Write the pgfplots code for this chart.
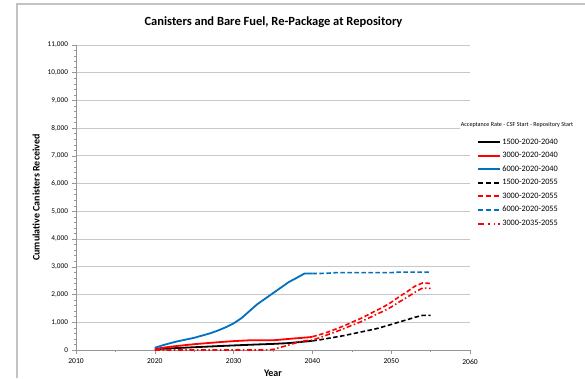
\documentclass[border=0pt]{standalone}
\usepackage{pgfplots}
\pgfplotsset{compat=1.18}
\usepackage{fontspec}
\setmainfont{Carlito}

\definecolor{exblue}{RGB}{0,112,192}
\definecolor{gridgray}{RGB}{200,200,200}
\definecolor{axgray}{RGB}{150,150,150}
\definecolor{framegray}{RGB}{195,195,195}

\tikzset{
  solidline/.style={line width=1.8pt},
  dashline/.style={line width=1.6pt, dash pattern=on 4.5pt off 2.5pt},
  dashdotline/.style={line width=1.6pt, dash pattern=on 5pt off 2.5pt on 1.5pt off 2.5pt},
}

\begin{document}
\begin{tikzpicture}
\useasboundingbox (0,0) rectangle (585pt,378pt);
% outer chart frame
\draw[framegray, line width=1.3pt] (17pt,0pt) -- (17pt,374pt) -- (585pt,374pt);
\node[font=\bfseries\fontsize{12.5}{14}\selectfont] at (273.5pt,356pt) {Canisters and Bare Fuel, Re-Package at Repository};

\begin{axis}[
  at={(76pt,28pt)}, anchor=south west,
  scale only axis, width=394pt, height=305pt,
  xmin=2010, xmax=2060, ymin=0, ymax=11000,
  xtick={2010,2020,...,2060}, minor x tick num=1,
  ytick={0,1000,...,11000}, minor y tick num=4,
  axis x line*=bottom, axis y line*=left,
  axis line style={axgray, line width=0.8pt},
  tick style={axgray, line width=0.6pt},
  tick align=outside,
  major tick length=3.5pt, minor tick length=2pt,
  ymajorgrids, grid style={gridgray, line width=0.9pt},
  /pgf/number format/assume math mode=true,
  yticklabel style={/pgf/number format/1000 sep={,}, font=\fontsize{7.3}{8}\selectfont, xshift=-1pt},
  xticklabel style={/pgf/number format/1000 sep={}, font=\fontsize{7.6}{8}\selectfont, yshift=-2pt},
  scaled y ticks=false,
  xlabel={Year}, ylabel={Cumulative Canisters Received},
  xlabel style={font=\bfseries\fontsize{10}{11}\selectfont, yshift=1.5pt},
  ylabel style={font=\bfseries\fontsize{10}{11}\selectfont, yshift=1pt},
  clip=false,
  legend cell align=left,
  legend style={at={(1.018,0.70)}, anchor=north west, draw=none, fill=none,
    font=\fontsize{8.3}{9}\selectfont, row sep=2.6pt, inner sep=0pt,
    nodes={inner xsep=1pt}},
  legend image code/.code={\draw[#1] (0pt,0pt) -- (22pt,0pt);},
]
% 1500-2020-2040
\addplot[black, solidline, forget plot] coordinates {
(2020,30) (2022,60) (2025,100) (2028,140) (2030,165) (2033,200) (2035,220) (2037,250) (2040,330)};
% 3000-2020-2040
\addplot[red, solidline, forget plot] coordinates {
(2020,40) (2022,120) (2025,210) (2028,280) (2030,320) (2032,350) (2035,350) (2037,400) (2040,470)};
% 6000-2020-2040
\addplot[exblue, solidline, forget plot] coordinates {
(2020,80) (2021,170) (2022,250) (2023,320) (2024,380) (2025,440) (2026,520) (2027,600) (2028,700) (2029,820) (2030,960) (2031,1150) (2032,1400) (2033,1650) (2034,1850) (2035,2050) (2036,2250) (2037,2450) (2038,2600) (2039,2760) (2040,2760)};
% 1500-2020-2055
\addplot[black, dashline, forget plot] coordinates {
(2040,330) (2041,370) (2042,420) (2043,470) (2044,520) (2045,580) (2046,640) (2047,700) (2048,760) (2049,840) (2050,920) (2051,1010) (2052,1090) (2053,1180) (2054,1250) (2055,1250)};
% 3000-2020-2055
\addplot[red, dashline, forget plot] coordinates {
(2040,480) (2041,560) (2042,650) (2043,760) (2044,870) (2045,1000) (2046,1120) (2047,1260) (2048,1410) (2049,1550) (2050,1720) (2051,1920) (2052,2100) (2053,2300) (2054,2420) (2055,2400)};
% 6000-2020-2055
\addplot[exblue, dashline, forget plot] coordinates {
(2040,2760) (2041,2760) (2042,2770) (2043,2790) (2044,2790) (2045,2790) (2046,2790) (2047,2790) (2048,2790) (2049,2790) (2050,2790) (2051,2810) (2052,2810) (2053,2810) (2054,2810) (2055,2810)};
% 3000-2035-2055
\addplot[red, dashdotline, forget plot] coordinates {
(2020,0) (2025,0) (2030,0) (2034,0) (2035,20) (2036,100) (2037,180) (2038,270) (2039,330) (2040,360) (2041,450) (2042,560) (2043,660) (2044,770) (2045,890) (2046,1000) (2047,1130) (2048,1270) (2049,1400) (2050,1550) (2051,1730) (2052,1900) (2053,2080) (2054,2240) (2055,2220)};

% legend samples
\addlegendimage{black, line width=2pt}
\addlegendentry{1500-2020-2040}
\addlegendimage{red, line width=2pt}
\addlegendentry{3000-2020-2040}
\addlegendimage{exblue, line width=2pt}
\addlegendentry{6000-2020-2040}
\addlegendimage{black, line width=2pt, dash pattern=on 5pt off 3pt}
\addlegendentry{1500-2020-2055}
\addlegendimage{red, line width=2pt, dash pattern=on 5pt off 3pt}
\addlegendentry{3000-2020-2055}
\addlegendimage{exblue, line width=2pt, dash pattern=on 5pt off 3pt}
\addlegendentry{6000-2020-2055}
\addlegendimage{red, line width=2pt, dash pattern=on 6pt off 4pt on 1.5pt off 4pt on 1.5pt off 3pt}
\addlegendentry{3000-2035-2055}
\end{axis}
\node[fill=white, inner sep=1pt, font=\fontsize{6.1}{6.6}\selectfont] at (517pt,253pt) {Acceptance Rate - CSF Start - Repository Start};
\end{tikzpicture}
\end{document}
